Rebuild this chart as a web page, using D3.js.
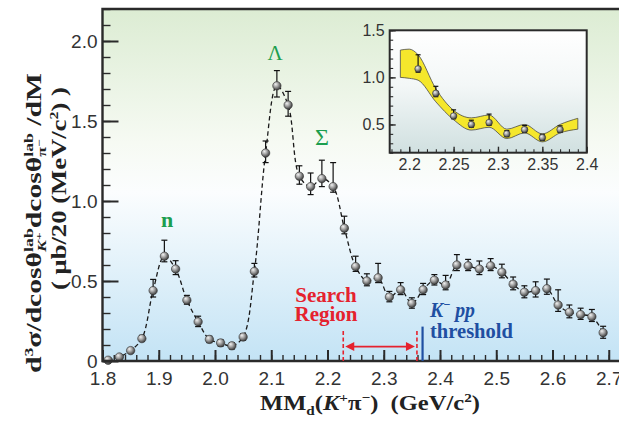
<!DOCTYPE html>
<html>
<head>
<meta charset="utf-8">
<script src="https://cdn.jsdelivr.net/npm/d3@7"></script>
<style>
  html, body { margin: 0; padding: 0; background: #fff; }
  svg { display: block; }
  text { white-space: pre; }
</style>
</head>
<body>
<svg id="chart" width="619" height="421"></svg>
<script>
// missing mass bins (GeV/c^2), 20 MeV wide
const mass = [1.81, 1.83, 1.85, 1.87, 1.89, 1.91, 1.93, 1.95, 1.97, 1.99,
              2.01, 2.03, 2.05, 2.07, 2.09, 2.11, 2.13, 2.15, 2.17, 2.19,
              2.21, 2.23, 2.25, 2.27, 2.29, 2.31, 2.33, 2.35, 2.37, 2.39,
              2.41, 2.43, 2.45, 2.47, 2.49, 2.51, 2.53, 2.55, 2.57, 2.59,
              2.61, 2.63, 2.65, 2.67, 2.69];
const xsec = [0.005, 0.025, 0.065, 0.14, 0.44, 0.655, 0.575, 0.38, 0.245, 0.135,
              0.113, 0.095, 0.15, 0.56, 1.30, 1.72, 1.60, 1.155, 1.09, 1.14,
              1.09, 0.83, 0.59, 0.50, 0.52, 0.40, 0.445, 0.36, 0.445, 0.505,
              0.475, 0.60, 0.595, 0.575, 0.595, 0.555, 0.48, 0.43, 0.44, 0.452,
              0.35, 0.305, 0.29, 0.277, 0.177];
const errUp = [0.01, 0.015, 0.015, 0.02, 0.07, 0.10, 0.052, 0.03, 0.035, 0.02,
               0.02, 0.02, 0.02, 0.05, 0.075, 0.095, 0.085, 0.065, 0.085, 0.115,
               0.15, 0.075, 0.065, 0.045, 0.09, 0.035, 0.045, 0.035, 0.04, 0.035,
               0.06, 0.065, 0.04, 0.05, 0.045, 0.05, 0.045, 0.04, 0.055, 0.06,
               0.095, 0.045, 0.04, 0.045, 0.04];
const errDown = [0.01, 0.01, 0.01, 0.015, 0.04, 0.035, 0.035, 0.025, 0.03, 0.02,
                 0.02, 0.02, 0.02, 0.035, 0.06, 0.07, 0.07, 0.05, 0.05, 0.05,
                 0.035, 0.035, 0.03, 0.03, 0.03, 0.03, 0.03, 0.03, 0.03, 0.03,
                 0.03, 0.035, 0.03, 0.035, 0.03, 0.035, 0.035, 0.035, 0.04, 0.035,
                 0.04, 0.035, 0.03, 0.03, 0.035];

const xTickLabels = [1.8, 1.9, 2.0, 2.1, 2.2, 2.3, 2.4, 2.5, 2.6, 2.7];
const yTickLabels = [0, 0.5, 1.0, 1.5, 2.0];

// search region and K-pp threshold (GeV/c^2)
const searchRegion = [2.228, 2.359];
const kppThreshold = 2.369;

// inset: fit band with its uncertainty
const bandMass = [2.19, 2.20, 2.21, 2.23, 2.25, 2.27, 2.29, 2.31, 2.33, 2.35, 2.37, 2.39];
const bandHigh = [1.29, 1.30, 1.24, 0.88, 0.65, 0.57, 0.60, 0.45, 0.50, 0.40, 0.50, 0.565];
const bandLow  = [1.00, 0.99, 0.97, 0.74, 0.55, 0.44, 0.47, 0.35, 0.41, 0.315, 0.41, 0.45];
const insetXTicks = [2.2, 2.25, 2.3, 2.35, 2.4];
const insetYTicks = [0.5, 1.0, 1.5];

const points = mass.map((m, i) => ({ m: m, v: xsec[i], up: errUp[i], lo: errDown[i] }));

const svg = d3.select('#chart');
const serif = 'Liberation Serif, Times New Roman, serif';
const sans = 'Liberation Sans, Arial, sans-serif';

const x = d3.scaleLinear().domain([1.8, 2.72]).range([102.5, 620]);
const y = d3.scaleLinear().domain([0, 2.2]).range([361, 9]);

const defs = svg.append('defs');

const bg = defs.append('linearGradient').attr('id', 'bg')
  .attr('x1', 0).attr('y1', 0).attr('x2', 0).attr('y2', 1);
[[0, '#dcecd3'], [0.38, '#f6faf3'], [0.52, '#fbfdfe'], [1, '#c3e3f5']].forEach(function (s) {
  bg.append('stop').attr('offset', s[0]).attr('stop-color', s[1]);
});

const insetBg = defs.append('linearGradient').attr('id', 'insetBg')
  .attr('x1', 0).attr('y1', 0).attr('x2', 0).attr('y2', 1);
[[0, '#ffffff'], [0.45, '#f3f7f7'], [1, '#d0e0e0']].forEach(function (s) {
  insetBg.append('stop').attr('offset', s[0]).attr('stop-color', s[1]);
});

const ball = defs.append('radialGradient').attr('id', 'ball')
  .attr('cx', '40%').attr('cy', '38%').attr('r', '62%').attr('fx', '35%').attr('fy', '30%');
[[0, '#f2f2f2'], [0.45, '#a8a8a8'], [1, '#3c3c3c']].forEach(function (s) {
  ball.append('stop').attr('offset', s[0]).attr('stop-color', s[1]);
});

// plot background
svg.append('rect')
  .attr('x', x(1.8)).attr('y', y(2.2))
  .attr('width', x(2.72) - x(1.8)).attr('height', y(0) - y(2.2))
  .attr('fill', 'url(#bg)');

// fit curve through the points
svg.append('path')
  .datum(points)
  .attr('fill', 'none')
  .attr('stroke', '#1a1a1a')
  .attr('stroke-width', 1.3)
  .attr('stroke-dasharray', '4.5,3')
  .attr('d', d3.line().x(d => x(d.m)).y(d => y(d.v)).curve(d3.curveCatmullRom));

function errorBars(g, data, sx, sy, cap) {
  const eb = g.append('g').attr('stroke', '#111').attr('stroke-width', 1.2);
  eb.selectAll('line.v').data(data).enter().append('line').attr('class', 'v')
    .attr('x1', d => sx(d.m)).attr('x2', d => sx(d.m))
    .attr('y1', d => sy(d.v + d.up)).attr('y2', d => sy(d.v - d.lo));
  eb.selectAll('line.t').data(data).enter().append('line').attr('class', 't')
    .attr('x1', d => sx(d.m) - cap).attr('x2', d => sx(d.m) + cap)
    .attr('y1', d => sy(d.v + d.up)).attr('y2', d => sy(d.v + d.up));
  eb.selectAll('line.b').data(data).enter().append('line').attr('class', 'b')
    .attr('x1', d => sx(d.m) - cap).attr('x2', d => sx(d.m) + cap)
    .attr('y1', d => sy(d.v - d.lo)).attr('y2', d => sy(d.v - d.lo));
}

function markers(g, data, sx, sy, r) {
  g.append('g').selectAll('circle').data(data).enter().append('circle')
    .attr('cx', d => sx(d.m)).attr('cy', d => sy(d.v)).attr('r', r)
    .attr('fill', 'url(#ball)').attr('stroke', '#333').attr('stroke-width', 0.6);
}

errorBars(svg, points, x, y, 3);
markers(svg, points, x, y, 4.2);

// axes, ticks point inwards
const minorX = d3.range(0, 47).map(i => 1.8 + i * 0.02).filter(v => v <= 2.715);
const minorY = d3.range(0, 23).map(i => i * 0.1);

svg.append('g').attr('transform', 'translate(0,' + y(0) + ')')
  .call(d3.axisBottom(x).tickValues(minorX).tickSize(-6).tickFormat(''))
  .call(g => g.select('.domain').remove())
  .call(g => g.selectAll('line').attr('stroke', '#2a2a2a').attr('stroke-width', 1.4));
svg.append('g').attr('transform', 'translate(0,' + y(0) + ')')
  .call(d3.axisBottom(x).tickValues(xTickLabels).tickSize(-11).tickPadding(10.5)
        .tickFormat(d3.format('.1f')))
  .call(g => g.select('.domain').remove())
  .call(g => g.selectAll('line').attr('stroke', '#2a2a2a').attr('stroke-width', 2))
  .call(g => g.selectAll('text').attr('font-family', sans).attr('font-size', 19).attr('fill', '#333'));

svg.append('g').attr('transform', 'translate(' + x(1.8) + ',0)')
  .call(d3.axisLeft(y).tickValues(minorY).tickSize(-8).tickFormat(''))
  .call(g => g.select('.domain').remove())
  .call(g => g.selectAll('line').attr('stroke', '#2a2a2a').attr('stroke-width', 1.4));
svg.append('g').attr('transform', 'translate(' + x(1.8) + ',0)')
  .call(d3.axisLeft(y).tickValues(yTickLabels).tickSize(-16).tickPadding(5)
        .tickFormat(d => d === 0 ? '0' : d.toFixed(1)))
  .call(g => g.select('.domain').remove())
  .call(g => g.selectAll('line').attr('stroke', '#2a2a2a').attr('stroke-width', 2))
  .call(g => g.selectAll('text').attr('font-family', sans).attr('font-size', 19).attr('fill', '#333'));

// frame (no right edge, cropped)
svg.append('path')
  .attr('d', 'M620,' + y(2.2) + 'H' + x(1.8) + 'V' + y(0) + 'H620')
  .attr('fill', 'none').attr('stroke', '#2a2a2a').attr('stroke-width', 2.4);

// search region and threshold
const red = '#e5222e', blue = '#1f4fa2', green = '#1c9e4f';
svg.selectAll('line.search').data(searchRegion).enter().append('line')
  .attr('x1', d => x(d)).attr('x2', d => x(d))
  .attr('y1', y(0)).attr('y2', y(0.2))
  .attr('stroke', red).attr('stroke-width', 1.6).attr('stroke-dasharray', '4,2.5');
svg.append('line')
  .attr('x1', x(kppThreshold)).attr('x2', x(kppThreshold))
  .attr('y1', y(0)).attr('y2', y(0.215))
  .attr('stroke', blue).attr('stroke-width', 2.2);

const ay = y(0.09), ax1 = x(searchRegion[0]) + 2, ax2 = x(searchRegion[1]) - 2;
svg.append('line').attr('x1', ax1 + 4).attr('x2', ax2 - 4).attr('y1', ay).attr('y2', ay)
  .attr('stroke', red).attr('stroke-width', 1.8);
svg.append('path')
  .attr('d', 'M' + ax1 + ',' + ay + 'l9,-4.5v9z M' + ax2 + ',' + ay + 'l-9,-4.5v9z')
  .attr('fill', red);

// text built from pieces, stretched to a target length
function richText(parent, pieces, opt) {
  const g = parent.append('g')
    .attr('transform', 'translate(' + opt.x + ',' + opt.y + ') rotate(' + (opt.rotate || 0) + ')');
  const inner = g.append('g');
  let cx = 0, maxEnd = 0, stacking = false;
  pieces.forEach(function (p) {
    if (!p.stack && !p.grp && stacking) { cx = Math.max(cx, maxEnd); stacking = false; }
    const t = inner.append('text')
      .attr('x', cx).attr('y', p.dy || 0)
      .attr('font-family', serif)
      .attr('font-weight', 'bold')
      .attr('font-style', p.italic ? 'italic' : 'normal')
      .attr('font-size', p.size || opt.size)
      .attr('fill', opt.color || '#222')
      .text(p.t);
    const w = t.node().getComputedTextLength();
    if (p.stack) { stacking = true; maxEnd = cx + w; }
    else { cx += w; }
  });
  if (stacking) cx = Math.max(cx, maxEnd);
  if (opt.length) inner.attr('transform', 'scale(' + (opt.length / cx) + ',1)');
  return g;
}

// y axis title
richText(svg, [
  { t: 'd' }, { t: '3', size: 12, dy: -8 }, { t: 'σ/dcosθ' },
  { t: 'lab', size: 12, dy: -8, stack: true },
  { t: 'K', size: 12, dy: 5, italic: true, grp: true }, { t: '+', size: 9, dy: 1, grp: true },
  { t: 'dcosθ' },
  { t: 'lab', size: 12, dy: -8, stack: true },
  { t: 'π', size: 12, dy: 5, grp: true }, { t: '−', size: 9, dy: 1, grp: true },
  { t: ' /dM' }
], { x: 41, y: 373, rotate: -90, size: 20, length: 300 });

richText(svg, [
  { t: '( μb/20 (MeV/c' }, { t: '2', size: 12, dy: -8 }, { t: ') )' }
], { x: 66, y: 290, rotate: -90, size: 20, length: 203 });

// x axis title
richText(svg, [
  { t: 'MM' }, { t: 'd', size: 13, dy: 5 }, { t: '(' }, { t: 'K', italic: true },
  { t: '+', size: 13, dy: -8 }, { t: 'π' }, { t: '−', size: 13, dy: -8 },
  { t: ')  (GeV/c' }, { t: '2', size: 13, dy: -8 }, { t: ')' }
], { x: 260, y: 410, size: 21, length: 220 });

// peak labels
svg.append('text').attr('x', x(1.915)).attr('y', 227).attr('text-anchor', 'middle')
  .attr('font-family', serif).attr('font-weight', 'bold').attr('font-size', 22)
  .attr('fill', green).text('n');
svg.append('text').attr('x', x(2.107)).attr('y', 60).attr('text-anchor', 'middle')
  .attr('font-family', serif).attr('font-size', 21)
  .attr('fill', green).text('Λ');
svg.append('text').attr('x', 322).attr('y', 145).attr('text-anchor', 'middle')
  .attr('font-family', serif).attr('font-size', 24)
  .attr('fill', green).text('Σ');

// search region label
svg.append('text').attr('x', 326).attr('y', 302).attr('text-anchor', 'middle')
  .attr('font-family', serif).attr('font-weight', 'bold').attr('font-size', 21)
  .attr('fill', red).text('Search');
svg.append('text').attr('x', 326).attr('y', 321).attr('text-anchor', 'middle')
  .attr('font-family', serif).attr('font-weight', 'bold').attr('font-size', 21)
  .attr('fill', red).text('Region');

// K-pp threshold label
richText(svg, [
  { t: 'K', italic: true }, { t: '−', size: 13, dy: -8 }, { t: ' pp', italic: true }
], { x: 430, y: 317, size: 21, length: 45, color: blue });
richText(svg, [{ t: 'threshold' }], { x: 430, y: 338, size: 21, length: 83, color: blue });

// ---- inset ----
const ix = d3.scaleLinear().domain([2.178, 2.4]).range([389.7, 586.7]);
const iy = d3.scaleLinear().domain([0.2, 1.5]).range([152.7, 30.3]);
const inset = svg.append('g');

defs.append('clipPath').attr('id', 'insetClip').append('rect')
  .attr('x', ix(2.178)).attr('y', iy(1.5))
  .attr('width', ix(2.4) - ix(2.178)).attr('height', iy(0.2) - iy(1.5));

inset.append('rect')
  .attr('x', ix(2.178)).attr('y', iy(1.5))
  .attr('width', ix(2.4) - ix(2.178)).attr('height', iy(0.2) - iy(1.5))
  .attr('fill', 'url(#insetBg)');

const band = bandMass.map((m, i) => ({ m: m, hi: bandHigh[i], lo: bandLow[i] }));
inset.append('path').datum(band)
  .attr('clip-path', 'url(#insetClip)')
  .attr('fill', '#f5e72c').attr('stroke', '#4a4a4a').attr('stroke-width', 0.8)
  .attr('d', d3.area().x(d => ix(d.m)).y0(d => iy(d.lo)).y1(d => iy(d.hi))
    .curve(d3.curveMonotoneX));

const insetPts = points.filter(d => d.m > 2.2 && d.m < 2.38);
errorBars(inset, insetPts, ix, iy, 2.5);
markers(inset, insetPts, ix, iy, 3.3);

const insetMinorX = d3.range(0, 22).map(i => 2.18 + i * 0.01);
const insetMinorY = d3.range(0, 14).map(i => 0.2 + i * 0.1);

inset.append('g').attr('transform', 'translate(0,' + iy(0.2) + ')')
  .call(d3.axisBottom(ix).tickValues(insetMinorX).tickSize(-3.5).tickFormat(''))
  .call(g => g.select('.domain').remove())
  .call(g => g.selectAll('line').attr('stroke', '#2a2a2a').attr('stroke-width', 1.1));
inset.append('g').attr('transform', 'translate(0,' + iy(0.2) + ')')
  .call(d3.axisBottom(ix).tickValues(insetXTicks).tickSize(-6).tickPadding(6).tickFormat(d => String(d)))
  .call(g => g.select('.domain').remove())
  .call(g => g.selectAll('line').attr('stroke', '#2a2a2a').attr('stroke-width', 1.4))
  .call(g => g.selectAll('text').attr('font-family', sans).attr('font-size', 16).attr('fill', '#333'));

inset.append('g').attr('transform', 'translate(' + ix(2.178) + ',0)')
  .call(d3.axisLeft(iy).tickValues(insetMinorY).tickSize(-3.5).tickFormat(''))
  .call(g => g.select('.domain').remove())
  .call(g => g.selectAll('line').attr('stroke', '#2a2a2a').attr('stroke-width', 1.1));
inset.append('g').attr('transform', 'translate(' + ix(2.178) + ',0)')
  .call(d3.axisLeft(iy).tickValues(insetYTicks).tickSize(-6).tickPadding(5).tickFormat(d => d.toFixed(1)))
  .call(g => g.select('.domain').remove())
  .call(g => g.selectAll('line').attr('stroke', '#2a2a2a').attr('stroke-width', 1.4))
  .call(g => g.selectAll('text').attr('font-family', sans).attr('font-size', 16).attr('fill', '#333'));

inset.append('rect')
  .attr('x', ix(2.178)).attr('y', iy(1.5))
  .attr('width', ix(2.4) - ix(2.178)).attr('height', iy(0.2) - iy(1.5))
  .attr('fill', 'none').attr('stroke', '#2a2a2a').attr('stroke-width', 2);
</script>
</body>
</html>
